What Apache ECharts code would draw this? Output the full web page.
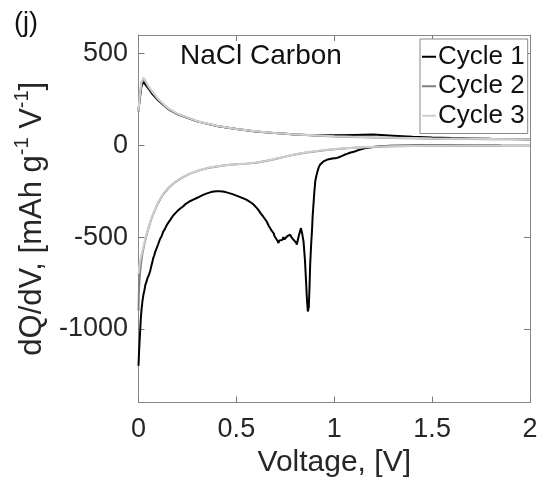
<!DOCTYPE html>
<html>
<head>
<meta charset="utf-8">
<script src="https://cdn.jsdelivr.net/npm/echarts@6/dist/echarts.min.js"></script>
<style>
html,body{margin:0;padding:0;background:#fff;}
#chart{width:558px;height:486px;}
</style>
</head>
<body>
<div id="chart"></div>
<script>
// ---- data ----
const seriesNames = ['Cycle 1', 'Cycle 2', 'Cycle 3'];
const xTicks = [0, 0.5, 1, 1.5, 2];
const yTicks = [-1000, -500, 0, 500];

// discharge (lower) branches: [voltage, dQ/dV]
const cycle1Discharge = [
  [0, -1200], [0.003, -1120], [0.006, -1060], [0.009, -1000], [0.012, -940], [0.015, -900],
  [0.02, -850], [0.025, -814], [0.03, -790], [0.035, -760], [0.04, -745], [0.047, -720],
  [0.053, -705], [0.059, -687], [0.065, -660], [0.07, -640], [0.075, -615], [0.08, -600],
  [0.087, -575], [0.093, -560], [0.1, -540], [0.105, -530], [0.11, -510], [0.118, -495],
  [0.127, -469], [0.135, -455], [0.142, -440], [0.15, -425], [0.157, -415], [0.165, -402],
  [0.172, -390], [0.178, -380], [0.186, -372], [0.193, -362], [0.2, -357], [0.208, -350],
  [0.215, -343], [0.222, -337], [0.229, -332], [0.24, -320], [0.25, -315], [0.26, -306],
  [0.27, -302], [0.28, -296], [0.29, -292], [0.298, -287], [0.31, -281], [0.32, -276],
  [0.33, -270], [0.34, -266], [0.35, -262], [0.36, -258], [0.37, -255], [0.385, -252],
  [0.40, -250], [0.415, -251], [0.43, -252], [0.445, -255], [0.455, -257], [0.468, -262],
  [0.48, -266], [0.49, -270], [0.5, -274], [0.51, -278], [0.52, -282], [0.53, -286],
  [0.542, -292], [0.553, -297], [0.565, -305], [0.575, -312], [0.585, -320], [0.595, -330],
  [0.605, -342], [0.615, -356], [0.625, -372], [0.635, -385], [0.645, -400], [0.655, -415],
  [0.665, -438], [0.673, -452], [0.68, -465], [0.69, -478], [0.695, -495], [0.7, -505],
  [0.705, -498], [0.71, -520], [0.715, -532], [0.72, -518], [0.725, -525], [0.73, -508],
  [0.735, -515], [0.74, -500], [0.745, -512], [0.75, -522], [0.755, -505], [0.76, -495],
  [0.765, -502], [0.77, -490], [0.775, -487], [0.78, -498], [0.785, -505], [0.79, -512],
  [0.795, -520], [0.8, -515], [0.805, -530], [0.809, -541], [0.815, -510], [0.82, -488],
  [0.826, -465], [0.83, -451], [0.836, -480], [0.843, -523], [0.85, -620], [0.855, -720],
  [0.86, -830], [0.865, -905], [0.87, -880], [0.874, -760], [0.877, -649], [0.882, -540],
  [0.886, -469], [0.89, -380], [0.895, -305], [0.899, -245], [0.903, -196], [0.909, -165],
  [0.915, -140], [0.92, -122], [0.928, -105], [0.936, -95], [0.945, -88], [0.955, -82],
  [0.965, -78], [0.978, -75], [0.99, -72], [1.0, -71], [1.014, -69], [1.027, -64],
  [1.04, -58], [1.052, -52], [1.065, -47], [1.08, -41], [1.1, -35], [1.117, -29],
  [1.133, -24], [1.155, -17], [1.18, -12], [1.21, -8], [1.235, -5], [1.29, -3],
  [1.4, -1], [1.6, 0], [1.85, 0]
];
const cycle2Discharge = [
  [0, -900], [0.002, -800], [0.006, -720], [0.012, -650], [0.02, -590], [0.033, -523],
  [0.05, -455], [0.067, -396], [0.085, -350], [0.1, -314], [0.125, -268], [0.153, -233],
  [0.185, -202], [0.221, -178], [0.26, -156], [0.306, -138], [0.355, -124], [0.408, -114],
  [0.455, -108], [0.5, -104], [0.55, -100], [0.6, -95], [0.65, -86], [0.7, -75],
  [0.75, -62], [0.8, -50], [0.85, -41], [0.9, -34], [0.95, -27], [1.0, -22],
  [1.1, -14], [1.2, -9], [1.3, -5], [1.5, -3], [1.7, -2], [2.0, -1]
];
const cycle3Discharge = [
  [0, -700], [0.004, -660], [0.01, -620], [0.02, -575], [0.033, -515], [0.05, -450],
  [0.067, -392], [0.085, -347], [0.1, -310], [0.125, -265], [0.153, -230], [0.185, -200],
  [0.221, -176], [0.26, -155], [0.306, -137], [0.355, -123], [0.408, -113], [0.455, -107],
  [0.5, -103], [0.55, -99], [0.6, -94], [0.65, -85], [0.7, -74], [0.75, -61],
  [0.8, -49], [0.85, -40], [0.9, -33], [0.95, -26], [1.0, -21], [1.1, -13],
  [1.2, -8], [1.3, -5], [1.5, -3], [1.7, -2], [2.0, -1]
];

// charge (upper) branches
const cycle1Charge = [
  [0, 190], [0.005, 240], [0.015, 320], [0.025, 345], [0.035, 335], [0.05, 310],
  [0.07, 280], [0.1, 245], [0.15, 198], [0.2, 168], [0.3, 130], [0.4, 105], [0.5, 88],
  [0.6, 75], [0.7, 66], [0.8, 59], [0.9, 55], [1.0, 54], [1.1, 56], [1.2, 58], [1.3, 52],
  [1.4, 46], [1.5, 42], [1.6, 39], [1.7, 37], [1.8, 35], [1.9, 34], [2.0, 33]
];
const cycle2Charge = [
  [0, 180], [0.005, 250], [0.015, 340], [0.025, 360], [0.035, 348], [0.05, 320],
  [0.07, 290], [0.1, 250], [0.15, 200], [0.2, 170], [0.3, 130], [0.4, 105], [0.5, 88],
  [0.6, 75], [0.7, 66], [0.8, 58], [0.9, 53], [1.0, 48], [1.1, 45], [1.2, 42], [1.3, 40],
  [1.4, 38], [1.5, 36], [1.6, 35], [1.7, 34], [1.8, 33], [1.9, 32], [2.0, 31]
];
const cycle3Charge = [
  [0, 185], [0.005, 255], [0.015, 345], [0.025, 368], [0.035, 352], [0.05, 322],
  [0.07, 292], [0.1, 252], [0.15, 202], [0.2, 171], [0.3, 131], [0.4, 106], [0.5, 89],
  [0.6, 76], [0.7, 67], [0.8, 59], [0.9, 54], [1.0, 49], [1.1, 46], [1.2, 43], [1.3, 41],
  [1.4, 39], [1.5, 37], [1.6, 36], [1.7, 35], [1.8, 34], [1.9, 33], [2.0, 32]
];

const colors = ['#000000', '#808080', '#cfcfcf'];

// ---- chart ----
const FONT = 'Liberation Sans, Arial, Helvetica, sans-serif';
const TXT = '#262626';
const FRAME = '#888888';
const chart = echarts.init(document.getElementById('chart'), null, {renderer: 'canvas'});

function lineSeries(name, data, color, width) {
  return {
    name: name, type: 'line', data: data, xAxisIndex: 0, yAxisIndex: 0,
    showSymbol: false, symbol: 'none', smooth: false, animation: false,
    lineStyle: {color: color, width: width}, itemStyle: {color: color},
    emphasis: {disabled: true}
  };
}

const tickStyle = {show: true, inside: true, length: 6, lineStyle: {color: '#7a7a7a', width: 1}};
const frameLine = {show: true, onZero: false, lineStyle: {color: FRAME, width: 1}};

const option = {
  backgroundColor: '#ffffff',
  animation: false,
  grid: {left: 138.5, right: 28, top: 35, bottom: 83.5, show: false},
  legend: {
    data: seriesNames,
    orient: 'vertical', left: 420, top: 39,
    padding: [3, 3, 3, 2], itemGap: 0,
    itemWidth: 14, itemHeight: 2, icon: 'rect',
    backgroundColor: '#ffffff', borderColor: FRAME, borderWidth: 1, borderRadius: 0,
    textStyle: {fontFamily: FONT, fontSize: 26, color: '#111', lineHeight: 29.5, padding: [0, 0, 0, -3]},
    selectedMode: false
  },
  xAxis: [
    {
      type: 'value', min: xTicks[0], max: xTicks[xTicks.length - 1], interval: xTicks[1] - xTicks[0], position: 'bottom',
      axisLine: frameLine, splitLine: {show: false},
      axisTick: tickStyle,
      axisLabel: {fontFamily: FONT, fontSize: 27, color: TXT, margin: 13.5,
        formatter: v => String(v)},
      name: 'Voltage, [V]', nameLocation: 'middle', nameGap: 45,
      nameTextStyle: {fontFamily: FONT, fontSize: 30, color: TXT}
    },
    {
      type: 'value', min: xTicks[0], max: xTicks[xTicks.length - 1], interval: xTicks[1] - xTicks[0], position: 'top',
      axisLine: frameLine, splitLine: {show: false},
      axisTick: tickStyle,
      axisLabel: {show: false}
    }
  ],
  yAxis: [
    {
      type: 'value', min: -1400, max: 600, position: 'left',
      axisLine: frameLine, splitLine: {show: false},
      axisTick: Object.assign({customValues: yTicks}, tickStyle),
      axisLabel: {customValues: yTicks, fontFamily: FONT, fontSize: 27, color: TXT, margin: 10.5,
        formatter: v => String(v)},
      name: '{b|dQ/dV, [mAh g}{s|-1}{b| V}{s|-1}{b|]}',
      nameLocation: 'middle', nameGap: 80, nameRotate: 90,
      nameTextStyle: {
        fontFamily: FONT, fontSize: 31, color: TXT,
        rich: {
          b: {fontFamily: FONT, fontSize: 31, color: TXT, lineHeight: 36, verticalAlign: 'bottom'},
          s: {fontFamily: FONT, fontSize: 20, color: TXT, lineHeight: 36, verticalAlign: 'top'}
        }
      }
    },
    {
      type: 'value', min: -1400, max: 600, position: 'right',
      axisLine: frameLine, splitLine: {show: false},
      axisTick: Object.assign({customValues: yTicks}, tickStyle),
      axisLabel: {show: false}
    }
  ],
  graphic: [
    {type: 'text', left: 14, top: 10, style: {text: '(j)', fontFamily: FONT, fontSize: 27, fill: '#111'}},
    {type: 'text', left: 180, top: 42, style: {text: 'NaCl Carbon', fontFamily: FONT, fontSize: 28, fill: '#111'}}
  ],
  series: [
    lineSeries('Cycle 1', cycle1Discharge, colors[0], 2),
    lineSeries('Cycle 1', cycle1Charge, colors[0], 2),
    lineSeries('Cycle 2', cycle2Discharge, colors[1], 2),
    lineSeries('Cycle 2', cycle2Charge, colors[1], 2),
    lineSeries('Cycle 3', cycle3Discharge, colors[2], 2),
    lineSeries('Cycle 3', cycle3Charge, colors[2], 2)
  ]
};
chart.setOption(option);
</script>
</body>
</html>
